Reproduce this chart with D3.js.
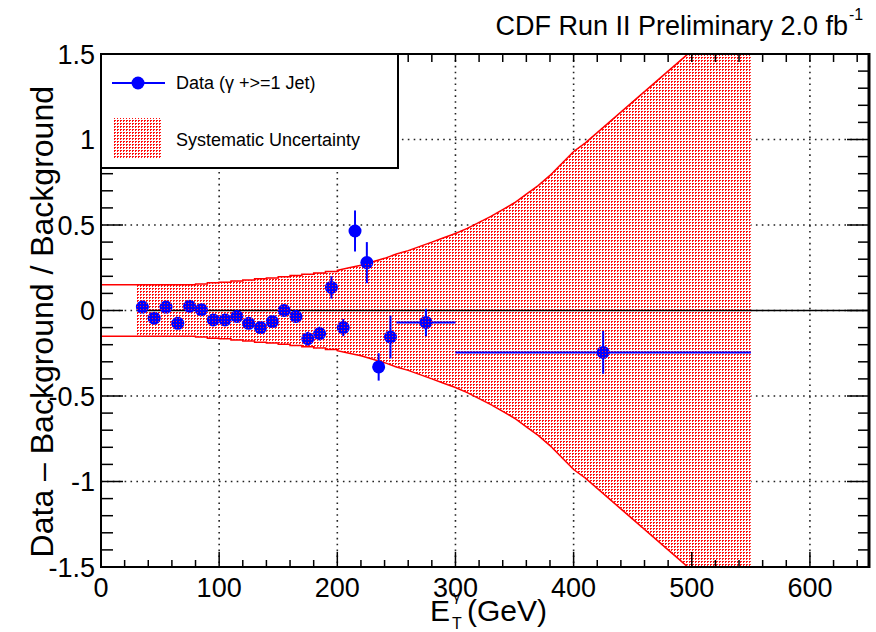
<!DOCTYPE html>
<html>
<head>
<meta charset="utf-8">
<script src="https://cdn.jsdelivr.net/npm/d3@7"></script>
<style>
  body { margin: 0; background: #fff; }
  svg text { font-family: "Liberation Sans", Arial, Helvetica, sans-serif; fill: #000; }
</style>
</head>
<body>
<div id="wrapper"></div>
<script>
// data
const etCenter = [35, 45, 55, 65, 75, 85, 95, 105, 115, 125, 135, 145, 155, 165, 175, 185, 195, 205, 215, 225, 235, 245, 275, 425]
const etHalf = [5, 5, 5, 5, 5, 5, 5, 5, 5, 5, 5, 5, 5, 5, 5, 5, 5, 5, 5, 5, 5, 5, 25, 125]
const ratio = [0.02, -0.045, 0.02, -0.075, 0.025, 0.005, -0.055, -0.055, -0.035, -0.075, -0.1, -0.065, 0.0, -0.035, -0.165, -0.135, 0.135, -0.1, 0.465, 0.28, -0.33, -0.155, -0.07, -0.245]
const ratioErr = [0.02, 0.02, 0.02, 0.02, 0.02, 0.02, 0.025, 0.025, 0.025, 0.03, 0.03, 0.03, 0.035, 0.035, 0.04, 0.04, 0.065, 0.05, 0.12, 0.12, 0.08, 0.125, 0.08, 0.125]

// systematic band, low part as bins (first bin 0-30 is outline only)
const bandEdges = [0, 30, 40, 50, 60, 70, 80, 90, 100, 110, 120, 130, 140, 150, 160, 170, 180, 190, 200]
const bandHalf = [0.15, 0.15, 0.15, 0.15, 0.15, 0.15, 0.155, 0.162, 0.165, 0.172, 0.178, 0.185, 0.19, 0.198, 0.205, 0.212, 0.22, 0.228]
// high part, smooth
const tailEt = [200, 210, 220, 230, 240, 250, 260, 270, 280, 290, 300, 310, 320, 330, 340, 350, 360, 370, 380, 390, 400, 410, 420, 430, 440, 450, 460, 470, 480, 490, 500, 510, 520, 530, 540, 550]
const tailHalf = [0.235, 0.25, 0.265, 0.285, 0.305, 0.33, 0.35, 0.375, 0.4, 0.425, 0.45, 0.48, 0.515, 0.55, 0.59, 0.63, 0.68, 0.73, 0.79, 0.86, 0.93, 0.98, 1.04, 1.1, 1.16, 1.22, 1.28, 1.34, 1.4, 1.46, 1.52, 1.58, 1.64, 1.7, 1.76, 1.82]

const xTicks = [0, 100, 200, 300, 400, 500, 600]
const yTicks = [-1.5, -1, -0.5, 0, 0.5, 1, 1.5]
const yTickLabels = ['-1.5', '-1', '-0.5', '0', '0.5', '1', '1.5']

const dms = {
    width: 876,
    height: 632,
    margin: { top: 54, right: 7, bottom: 65, left: 101 }
}
dms.chartWidth = dms.width - dms.margin.left - dms.margin.right
dms.chartHeight = dms.height - dms.margin.top - dms.margin.bottom

const svg = d3.select('#wrapper')
    .append('svg')
    .attr('width', dms.width)
    .attr('height', dms.height)

const defs = svg.append('defs')
// dotted red fill, roughly like ROOT style 3001
const pat = defs.append('pattern')
    .attr('id', 'dots')
    .attr('width', 3).attr('height', 3)
    .attr('patternUnits', 'userSpaceOnUse')
pat.append('rect').attr('width', 3).attr('height', 3).attr('fill', '#fff')
pat.append('rect').attr('width', 2).attr('height', 1).attr('fill', '#ff1010')
pat.append('rect').attr('y', 1).attr('width', 1).attr('height', 1).attr('fill', '#ff1010')
const pat2 = defs.append('pattern')
    .attr('id', 'dotsOver')
    .attr('width', 3).attr('height', 3)
    .attr('patternUnits', 'userSpaceOnUse')
pat2.append('rect').attr('width', 1).attr('height', 1).attr('fill', '#ff2020')

defs.append('clipPath').attr('id', 'plotClip')
    .append('rect')
    .attr('width', dms.chartWidth).attr('height', dms.chartHeight)

const bounds = svg.append('g')
    .attr('transform', `translate(${dms.margin.left},${dms.margin.top})`)

const xScale = d3.scaleLinear().domain([0, 650]).range([0, dms.chartWidth])
const yScale = d3.scaleLinear().domain([-1.5, 1.5]).range([dms.chartHeight, 0])

// grid
const grid = bounds.append('g')
    .attr('stroke', '#222')
    .attr('stroke-width', 1.6)
    .attr('stroke-dasharray', '1.6 4.3')
grid.selectAll('.vg').data(xTicks.filter(d => d > 0))
    .join('line')
    .attr('x1', d => xScale(d)).attr('x2', d => xScale(d))
    .attr('y1', 0).attr('y2', dms.chartHeight)
grid.selectAll('.hg').data(yTicks.filter(d => Math.abs(d) < 1.5))
    .join('line')
    .attr('x1', 0).attr('x2', dms.chartWidth)
    .attr('y1', d => yScale(d)).attr('y2', d => yScale(d))

// band outline points: steps, then smooth tail
const stepBins = bandHalf.map((h, i) => ({ x0: bandEdges[i], x1: bandEdges[i + 1], h: h }))
const bandPts = from => stepBins.slice(from)
    .flatMap(b => [[b.x0, b.h], [b.x1, b.h]])
    .concat(tailEt.map((e, i) => [e, tailHalf[i]]))

const area = d3.area()
    .x(d => xScale(d[0]))
    .y0(d => yScale(-d[1]))
    .y1(d => yScale(d[1]))
const line = d3.line()
    .x(d => xScale(d[0]))
    .y(d => yScale(d[1]))

const bandG = bounds.append('g').attr('clip-path', 'url(#plotClip)')
bandG.append('path')
    .attr('d', area(bandPts(1)))
    .attr('fill', 'url(#dots)')
bandG.append('path')
    .attr('d', line(bandPts(0)))
    .attr('fill', 'none').attr('stroke', '#ff0000').attr('stroke-width', 1.5)
bandG.append('path')
    .attr('d', line(bandPts(0).map(d => [d[0], -d[1]])))
    .attr('fill', 'none').attr('stroke', '#ff0000').attr('stroke-width', 1.5)

// zero line
bounds.append('line')
    .attr('x1', xScale(30)).attr('x2', xScale(650))
    .attr('y1', yScale(0)).attr('y2', yScale(0))
    .attr('stroke', '#000').attr('stroke-width', 1.6)

// data points
const pts = etCenter.map((e, i) => ({ x: e, dx: etHalf[i], y: ratio[i], dy: ratioErr[i] }))
const dataG = bounds.append('g')
    .attr('stroke', '#0000ff')
    .attr('stroke-width', 2)
dataG.selectAll('.ex').data(pts)
    .join('line')
    .attr('x1', d => xScale(d.x - d.dx)).attr('x2', d => xScale(d.x + d.dx))
    .attr('y1', d => yScale(d.y)).attr('y2', d => yScale(d.y))
dataG.selectAll('.ey').data(pts)
    .join('line')
    .attr('x1', d => xScale(d.x)).attr('x2', d => xScale(d.x))
    .attr('y1', d => yScale(d.y - d.dy)).attr('y2', d => yScale(d.y + d.dy))
bounds.append('g').selectAll('circle').data(pts)
    .join('circle')
    .attr('cx', d => xScale(d.x))
    .attr('cy', d => yScale(d.y))
    .attr('r', 6.5)
    .attr('fill', '#0000ff')

// band pattern shows through the markers
const mClip = defs.append('clipPath').attr('id', 'markerClip')
mClip.selectAll('circle').data(pts)
    .join('circle')
    .attr('cx', d => xScale(d.x))
    .attr('cy', d => yScale(d.y))
    .attr('r', 6.5)
bounds.append('g').attr('clip-path', 'url(#markerClip)')
    .append('path')
    .attr('d', area(bandPts(1)))
    .attr('fill', 'url(#dotsOver)')

// frame and ticks
bounds.append('rect')
    .attr('width', dms.chartWidth).attr('height', dms.chartHeight)
    .attr('fill', 'none').attr('stroke', '#000').attr('stroke-width', 2)
bounds.append('line')
    .attr('x1', dms.chartWidth).attr('x2', dms.chartWidth)
    .attr('y1', -1).attr('y2', dms.chartHeight + 1)
    .attr('stroke', '#000').attr('stroke-width', 3)

const xMinor = d3.range(0, 651, 20)
const yMinor = d3.range(-15, 16).map(d => d / 10)
const tickG = bounds.append('g').attr('stroke', '#000').attr('stroke-width', 1.5)
tickG.selectAll('.xb').data(xMinor)
    .join('line')
    .attr('x1', d => xScale(d)).attr('x2', d => xScale(d))
    .attr('y1', dms.chartHeight)
    .attr('y2', d => dms.chartHeight - (d % 100 === 0 ? 15 : 7))
tickG.selectAll('.xt').data(xMinor)
    .join('line')
    .attr('x1', d => xScale(d)).attr('x2', d => xScale(d))
    .attr('y1', 0).attr('y2', 8)
tickG.selectAll('.yl').data(yMinor)
    .join('line')
    .attr('y1', d => yScale(d)).attr('y2', d => yScale(d))
    .attr('x1', 0)
    .attr('x2', d => (Math.round(d * 10) % 5 === 0 ? 22 : 12))
tickG.selectAll('.yr').data(yMinor)
    .join('line')
    .attr('y1', d => yScale(d)).attr('y2', d => yScale(d))
    .attr('x1', dms.chartWidth)
    .attr('x2', d => dms.chartWidth - (Math.round(d * 10) % 5 === 0 ? 22 : 11))

// tick labels
bounds.append('g').selectAll('text').data(xTicks)
    .join('text')
    .attr('x', d => xScale(d))
    .attr('y', dms.chartHeight + 30)
    .attr('text-anchor', 'middle')
    .style('font-size', '27px')
    .text(d => d)
bounds.append('g').selectAll('text').data(yTicks)
    .join('text')
    .attr('x', -6)
    .attr('y', d => yScale(d) + 9.5)
    .attr('text-anchor', 'end')
    .style('font-size', '27px')
    .text((d, i) => yTickLabels[i])

// axis titles
const xTitle = svg.append('g')
xTitle.append('text').attr('x', 430).attr('y', 621).style('font-size', '30px').text('E')
xTitle.append('text').attr('x', 452).attr('y', 629).style('font-size', '16px').text('T')
xTitle.append('text').attr('x', 453).attr('y', 601).style('font-size', '15px').text('γ')
xTitle.append('text').attr('x', 467).attr('y', 621).style('font-size', '30px').text('(GeV)')

svg.append('text')
    .attr('transform', 'translate(53,86) rotate(-90)')
    .attr('text-anchor', 'end')
    .style('font-size', '32px')
    .text('Data – Background / Background')

// title
svg.append('text')
    .attr('x', 848)
    .attr('y', 35)
    .attr('text-anchor', 'end')
    .style('font-size', '27px')
    .text('CDF Run II Preliminary 2.0 fb')
svg.append('text')
    .attr('x', 849)
    .attr('y', 20)
    .style('font-size', '16px')
    .text('-1')

// legend
const leg = svg.append('g')
leg.append('rect')
    .attr('x', 101).attr('y', 54)
    .attr('width', 297).attr('height', 114)
    .attr('fill', '#fff').attr('stroke', '#000').attr('stroke-width', 2)
leg.append('line')
    .attr('x1', 112).attr('x2', 165)
    .attr('y1', 83).attr('y2', 83)
    .attr('stroke', '#0000ff').attr('stroke-width', 2)
leg.append('circle')
    .attr('cx', 138).attr('cy', 83).attr('r', 6.5)
    .attr('fill', '#0000ff')
leg.append('text')
    .attr('x', 176).attr('y', 89)
    .style('font-size', '18px')
    .text('Data (γ +>=1 Jet)')
leg.append('rect')
    .attr('x', 113).attr('y', 118)
    .attr('width', 49).attr('height', 41)
    .attr('fill', 'url(#dots)')
leg.append('text')
    .attr('x', 176).attr('y', 146)
    .style('font-size', '18px')
    .text('Systematic Uncertainty')
</script>
</body>
</html>
